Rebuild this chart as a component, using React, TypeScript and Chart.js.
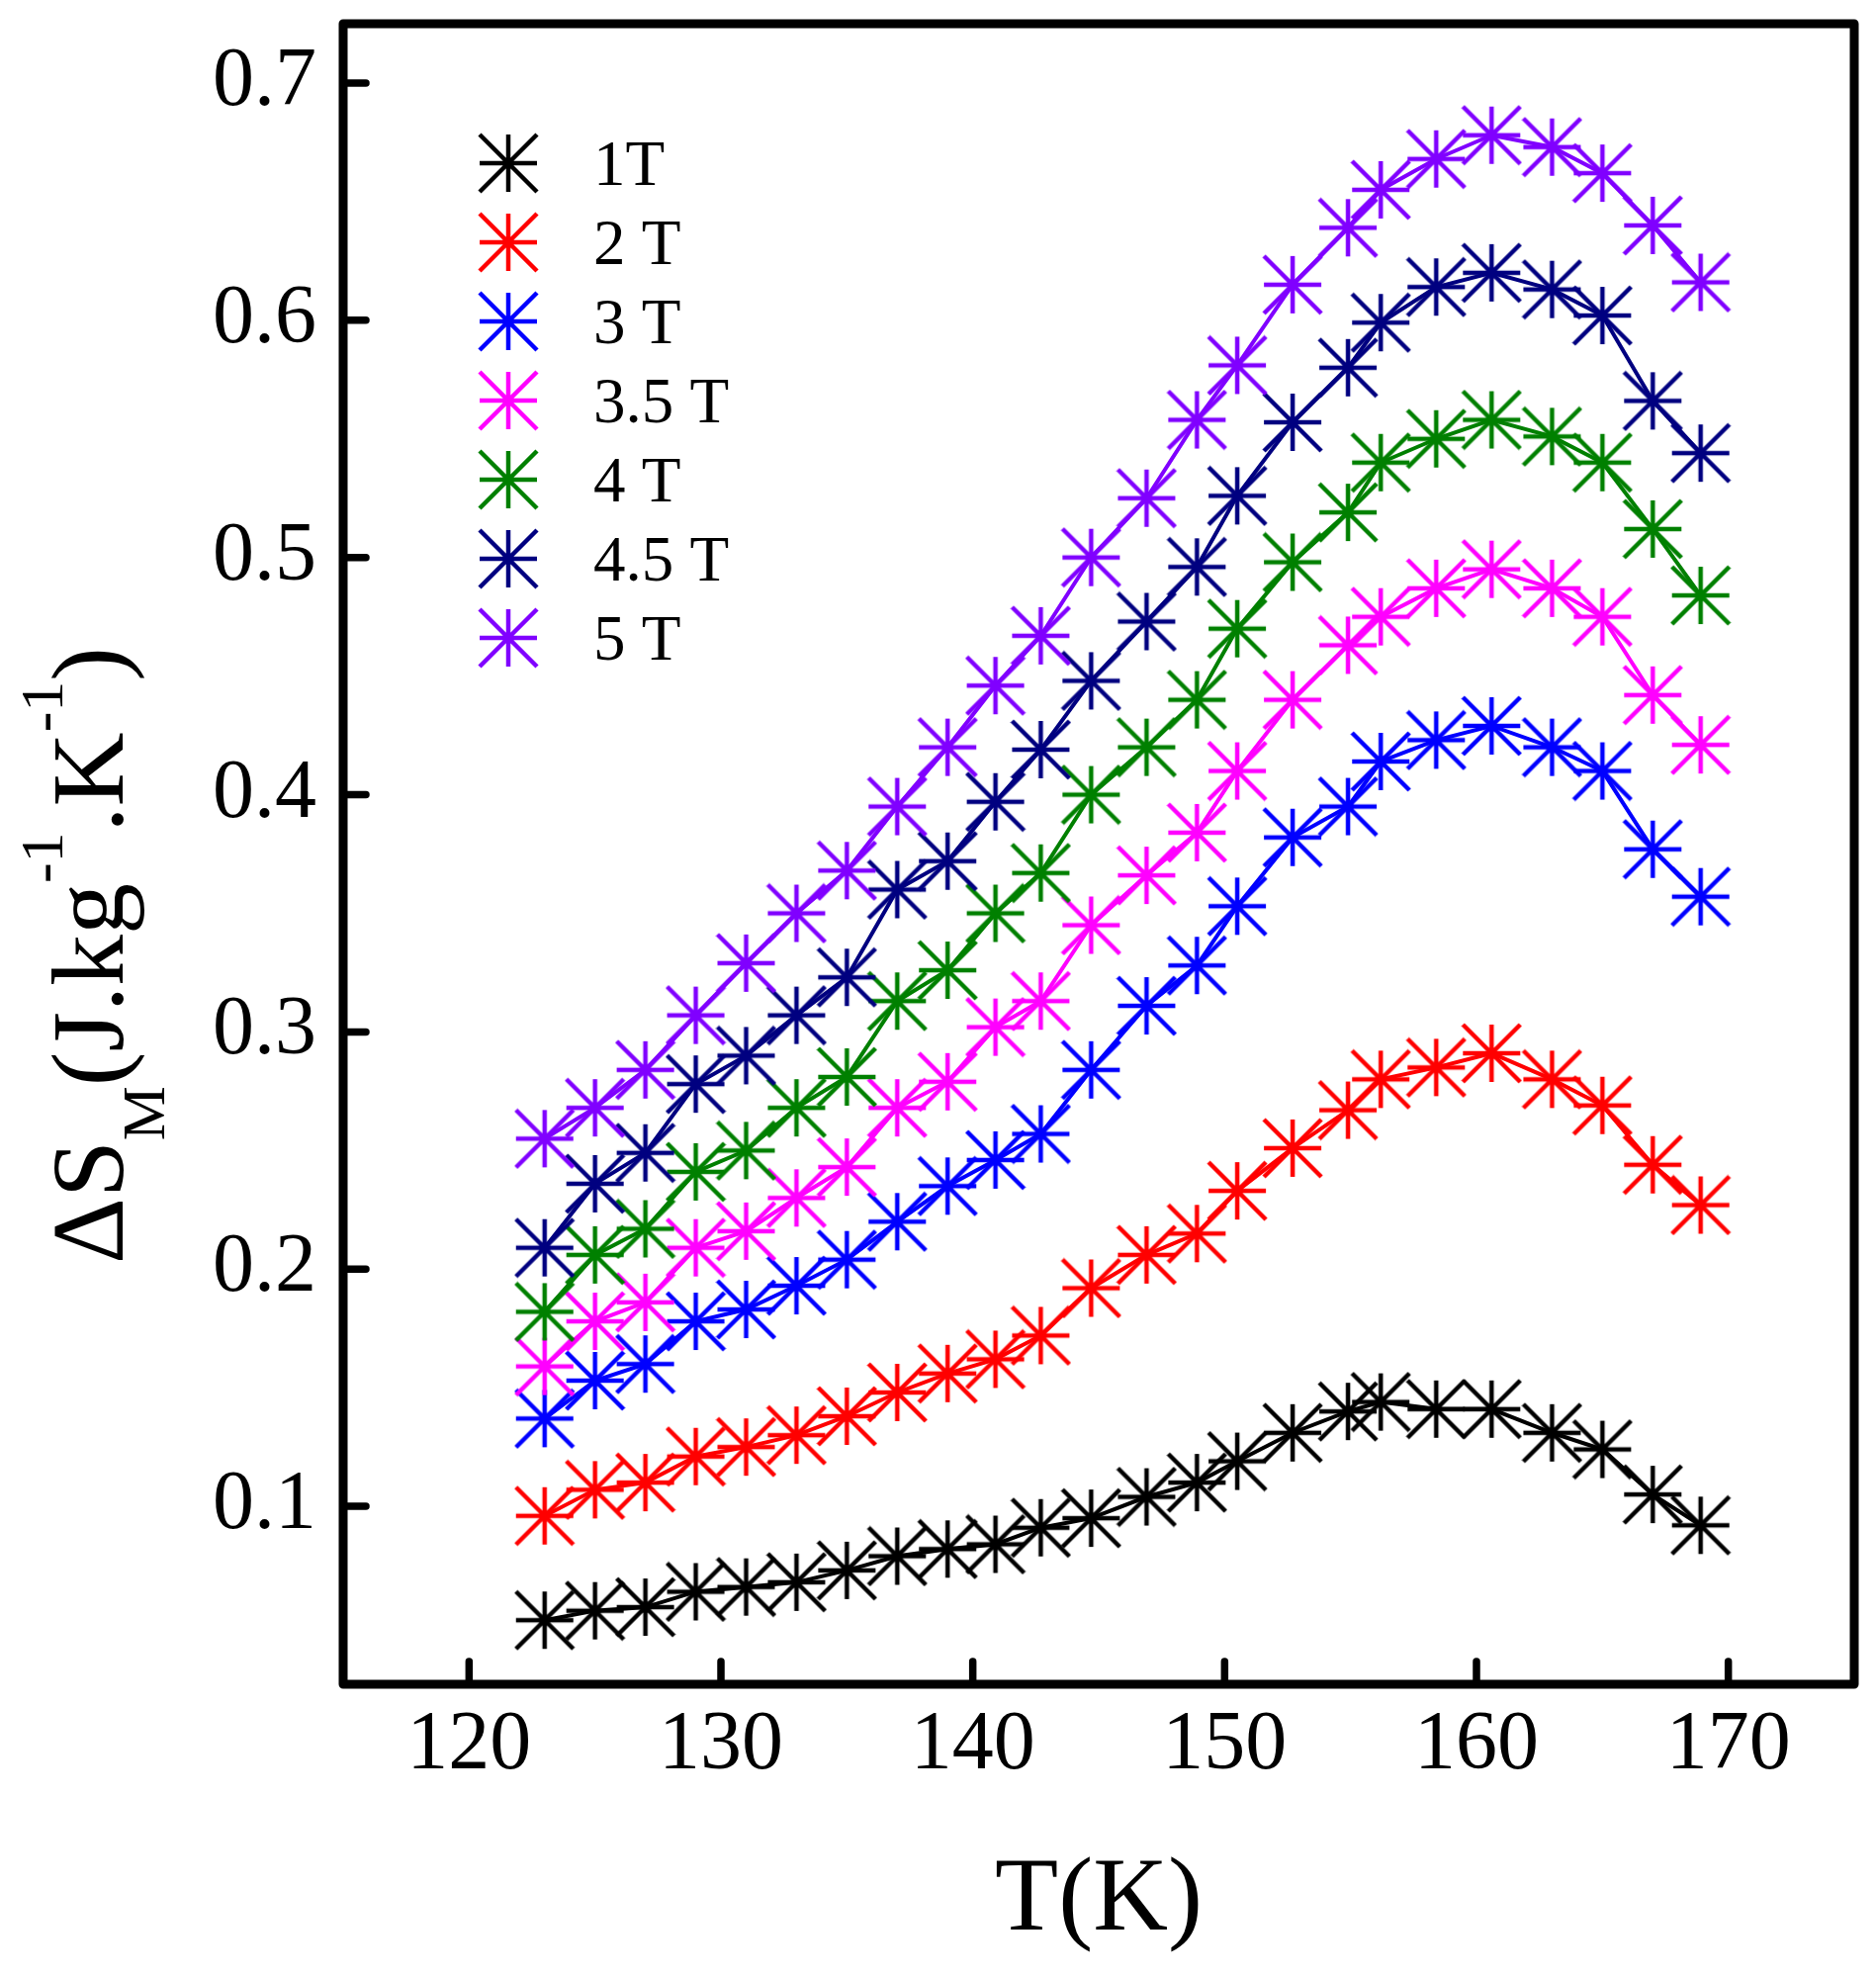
import { useEffect, useRef } from 'react';
import { Chart, registerables } from 'chart.js';

Chart.register(...registerables);

// temperature (K) of every measured point
const temperature = [123, 125, 127, 129, 131, 133, 135, 137, 139, 140.9, 142.7, 144.7, 146.9, 148.9, 150.5, 152.7, 154.9, 156.2, 158.4, 160.6, 163, 165, 167, 168.9];

// magnetic entropy change for each field
const dS1T = [0.052, 0.056, 0.0575, 0.064, 0.066, 0.068, 0.073, 0.079, 0.082, 0.084, 0.091, 0.095, 0.104, 0.110, 0.119, 0.131, 0.140, 0.144, 0.141, 0.141, 0.131, 0.124, 0.105, 0.092];
const dS2T = [0.096, 0.107, 0.110, 0.121, 0.125, 0.130, 0.138, 0.148, 0.156, 0.162, 0.172, 0.192, 0.206, 0.215, 0.233, 0.251, 0.267, 0.280, 0.285, 0.291, 0.280, 0.269, 0.244, 0.227];
const dS3T = [0.137, 0.153, 0.160, 0.178, 0.183, 0.193, 0.204, 0.220, 0.235, 0.246, 0.257, 0.284, 0.311, 0.328, 0.353, 0.382, 0.395, 0.414, 0.423, 0.429, 0.420, 0.410, 0.377, 0.357];
const dS35T = [0.159, 0.178, 0.186, 0.209, 0.216, 0.230, 0.243, 0.268, 0.279, 0.302, 0.313, 0.345, 0.366, 0.384, 0.410, 0.440, 0.463, 0.475, 0.487, 0.495, 0.487, 0.475, 0.442, 0.421];
const dS4T = [0.182, 0.206, 0.217, 0.241, 0.250, 0.268, 0.281, 0.313, 0.326, 0.350, 0.367, 0.400, 0.420, 0.440, 0.470, 0.498, 0.519, 0.540, 0.550, 0.558, 0.551, 0.540, 0.512, 0.484];
const dS45T = [0.209, 0.236, 0.249, 0.278, 0.290, 0.307, 0.323, 0.360, 0.372, 0.397, 0.419, 0.448, 0.473, 0.496, 0.526, 0.557, 0.580, 0.599, 0.614, 0.620, 0.613, 0.602, 0.566, 0.544];
const dS5T = [0.255, 0.268, 0.284, 0.307, 0.329, 0.350, 0.368, 0.395, 0.420, 0.446, 0.467, 0.500, 0.525, 0.558, 0.581, 0.615, 0.639, 0.655, 0.668, 0.678, 0.673, 0.662, 0.640, 0.616];

const seriesValues = [dS1T, dS2T, dS3T, dS35T, dS4T, dS45T, dS5T];
const seriesLabels = ['1T', '2 T', '3 T', '3.5 T', '4 T', '4.5 T', '5 T'];
const seriesColors = ['#000000', '#FF0000', '#0000FF', '#FF00FF', '#008000', '#000080', '#8000FF'];

// axis ticks
const xTickValues = [120, 130, 140, 150, 160, 170];
const yTickValues = [0.1, 0.2, 0.3, 0.4, 0.5, 0.6, 0.7];

const SERIF = '"Liberation Serif", "Times New Roman", serif';

// asterisk marker: arms reach the corners of the square
function makeStar(color: string) {
  const size = 62;
  const c = document.createElement('canvas');
  c.width = size;
  c.height = size;
  const g = c.getContext('2d')!;
  g.strokeStyle = color;
  g.lineWidth = 4.5;
  const a = 2, b = size - 2, m = size / 2;
  g.beginPath();
  g.moveTo(a, m); g.lineTo(b, m);
  g.moveTo(m, a); g.lineTo(m, b);
  g.moveTo(a, a); g.lineTo(b, b);
  g.moveTo(b, a); g.lineTo(a, b);
  g.stroke();
  return c;
}

function makeDecor(stars: HTMLCanvasElement[]) {
  return {
    id: 'decor',
    afterDraw(chart: any) {
      const { ctx, chartArea: area, scales } = chart;
      ctx.save();

      // frame
      ctx.strokeStyle = '#000';
      ctx.lineWidth = 9;
      ctx.lineJoin = 'round';
      ctx.strokeRect(area.left, area.top, area.right - area.left, area.bottom - area.top);

      // inward ticks
      ctx.lineWidth = 7.5;
      ctx.lineCap = 'round';
      ctx.beginPath();
      scales.x.ticks.forEach((t: any) => {
        const px = scales.x.getPixelForValue(t.value);
        ctx.moveTo(px, area.bottom);
        ctx.lineTo(px, area.bottom - 23);
      });
      scales.y.ticks.forEach((t: any) => {
        const py = scales.y.getPixelForValue(t.value);
        ctx.moveTo(area.left, py);
        ctx.lineTo(area.left + 23, py);
      });
      ctx.stroke();

      // legend
      ctx.fillStyle = '#000';
      ctx.font = `65px ${SERIF}`;
      ctx.textAlign = 'left';
      ctx.textBaseline = 'alphabetic';
      seriesLabels.forEach((label, i) => {
        const cy = 165 + 80 * i;
        ctx.drawImage(stars[i], 514 - stars[i].width / 2, cy - stars[i].height / 2);
        ctx.fillText(label, 600, cy + 22);
      });

      // y axis title with subscript and superscripts
      const parts: [string, number, number][] = [
        ['\u0394S', 104, 0],
        ['M', 62, 42],
        ['(J.kg', 104, 0],
        ['-1', 62, -61],
        ['.K', 104, 0],
        ['-1', 62, -61],
        [')', 104, 0],
      ];
      ctx.translate(124, 1278);
      ctx.rotate(-Math.PI / 2);
      let cursor = 0;
      parts.forEach(([text, size, dy]) => {
        ctx.font = `${size}px ${SERIF}`;
        ctx.fillText(text, cursor, dy);
        cursor += ctx.measureText(text).width;
      });

      ctx.restore();
    },
  };
}

export default function App() {
  const chartRef = useRef<HTMLCanvasElement>(null);

  useEffect(() => {
    document.body.style.margin = '0';
    document.documentElement.style.overflow = 'hidden';
    if (!chartRef.current) return;
    const ctx = chartRef.current.getContext('2d');
    if (!ctx) return;

    const stars = seriesColors.map(makeStar);

    const chart = new Chart(ctx, {
      type: 'scatter',
      data: {
        datasets: seriesValues.map((vals, i) => ({
          label: seriesLabels[i],
          data: temperature.map((t, j) => ({ x: t, y: vals[j] })),
          showLine: true,
          borderColor: seriesColors[i],
          backgroundColor: seriesColors[i],
          borderWidth: 4,
          pointStyle: stars[i],
          pointRadius: 30,
          order: seriesValues.length - i,
        })),
      },
      options: {
        animation: false,
        responsive: false,
        events: [],
        layout: { autoPadding: false, padding: { top: 24, right: 22, left: 0, bottom: 0 } },
        plugins: {
          legend: { display: false },
          tooltip: { enabled: false },
        },
        scales: {
          x: {
            type: 'linear',
            min: 115,
            max: 175,
            bounds: 'data',
            grid: { display: false, drawTicks: false },
            border: { display: false },
            afterBuildTicks: (scale: any) => {
              scale.ticks = xTickValues.map((v) => ({ value: v }));
            },
            ticks: {
              autoSkip: false,
              maxRotation: 0,
              padding: 13,
              color: '#000',
              font: { family: SERIF, size: 84 },
              callback: (v: any) => String(v),
            },
            title: {
              display: true,
              text: 'T(K)',
              color: '#000',
              font: { family: SERIF, size: 105 },
              padding: { top: 0, bottom: 13 },
            },
            afterFit: (scale: any) => {
              scale.height = 296;
              scale.paddingLeft = 0;
              scale.paddingRight = 0;
            },
          },
          y: {
            min: 0.025,
            max: 0.725,
            bounds: 'data',
            grid: { display: false, drawTicks: false },
            border: { display: false },
            afterBuildTicks: (scale: any) => {
              scale.ticks = yTickValues.map((v) => ({ value: v }));
            },
            ticks: {
              autoSkip: false,
              padding: 27,
              color: '#000',
              font: { family: SERIF, size: 84 },
              callback: (v: any) => Number(v).toFixed(1),
            },
            afterFit: (scale: any) => {
              scale.width = 347;
              scale.paddingTop = 0;
              scale.paddingBottom = 0;
            },
          },
        },
      },
      plugins: [makeDecor(stars)],
    });

    return () => chart.destroy();
  }, []);

  return (
    <div style={{ width: 1897, height: 1999 }}>
      <canvas ref={chartRef} width={1897} height={1999} style={{ display: 'block' }} />
    </div>
  );
}
